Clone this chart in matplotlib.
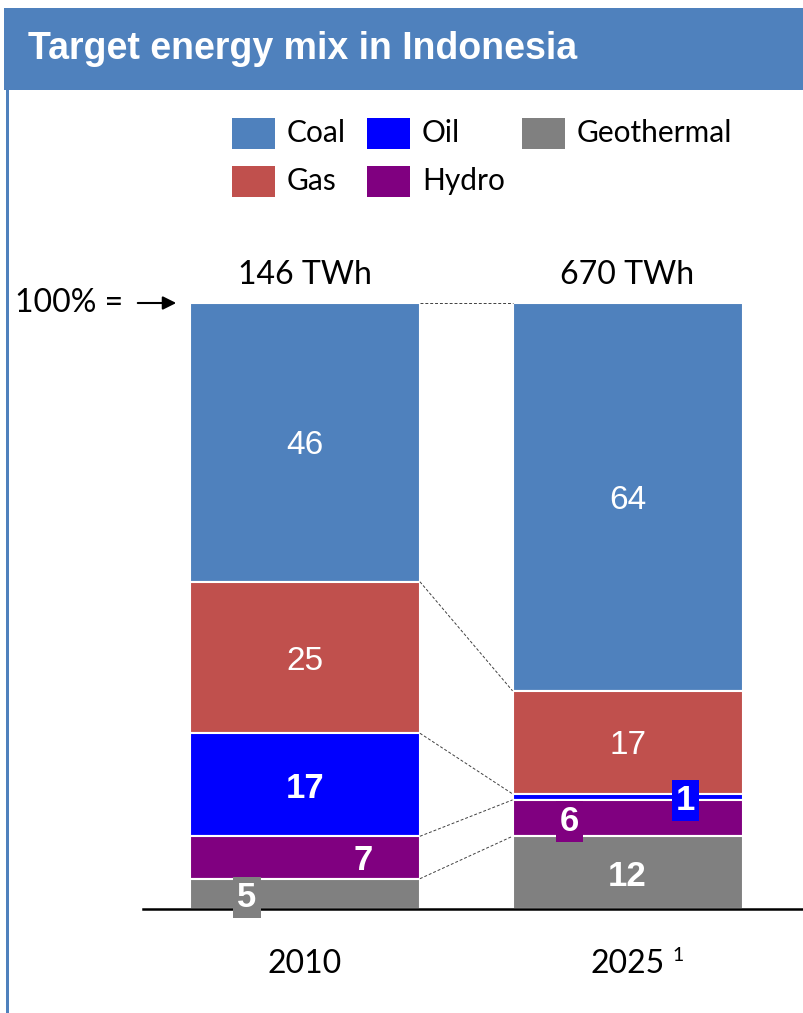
import matplotlib
matplotlib.use('Agg')
import matplotlib.pyplot as plt
from matplotlib.patches import Rectangle
import numpy as np

# data (shares in %)
years = ['2010', '2025']
totals = ['146 TWh', '670 TWh']
sources = ['Coal', 'Gas', 'Oil', 'Hydro', 'Geothermal']
coal = [46, 64]
gas = [25, 17]
oil = [17, 1]
hydro = [7, 6]
geothermal = [5, 12]

colors = {'Coal': '#4F81BD', 'Gas': '#C0504D', 'Oil': '#0000FF',
          'Hydro': '#800080', 'Geothermal': '#808080'}

W, H = 804, 1013


def fx(x):
    return x / W


def fy(y):
    return 1 - y / H


fig = plt.figure(figsize=(W / 100, H / 100), dpi=100)

# header banner + left border
fig.patches.append(Rectangle((fx(4), fy(90)), 1 - fx(4), 82 / H, transform=fig.transFigure,
                             facecolor='#4F81BD', edgecolor='none'))
fig.patches.append(Rectangle((fx(6), 0), 3 / W, fy(90), transform=fig.transFigure,
                             facecolor='#4F81BD', edgecolor='none'))
fig.text(fx(28), fy(49), 'Target energy mix in Indonesia', color='white', fontsize=27,
         fontweight='bold', family='Liberation Sans', va='center', ha='left')

# legend drawn by hand (3 columns, 2 rows)
leg_cols = [232, 367, 522]
leg_rows = [133, 181]
for i, name in enumerate(sources):
    c, r = i // 2, i % 2
    x0, yc = leg_cols[c], leg_rows[r]
    fig.patches.append(Rectangle((fx(x0), fy(yc + 16)), 43 / W, 31 / H, transform=fig.transFigure,
                                 facecolor=colors[name], edgecolor='none'))
    fig.text(fx(x0 + 55), fy(yc), name, fontsize=21.5, family='Lato', va='center', ha='left')

# bars
ax = fig.add_axes([fx(143), fy(909), fx(804) - fx(143), 606 / H])
ax.set_xlim(-0.502, 1.547)
ax.set_ylim(0, 100)
ax.axis('off')

x = np.arange(len(years))
bw = 0.713
stack = [('Coal', coal), ('Gas', gas), ('Oil', oil), ('Hydro', hydro), ('Geothermal', geothermal)]
# stacked from the top down: coal on top
tops = np.array([100.0, 100.0])
bounds = [tops.copy()]
seg_info = []
for name, vals in stack:
    vals = np.array(vals, dtype=float)
    bottoms = tops - vals
    ax.bar(x, vals, bottom=bottoms, width=bw, color=colors[name], edgecolor='white', linewidth=1.5)
    seg_info.append((name, vals, (tops + bottoms) / 2))
    tops = bottoms
    bounds.append(tops.copy())

# dashed connectors between boundaries
for b in bounds[:-1]:
    ax.plot([x[0] + bw / 2, x[1] - bw / 2], [b[0], b[1]], color='#404040', lw=0.7,
            ls=(0, (3, 2)), clip_on=False)

# labels
lab_style = {
    'Coal': dict(fontsize=24, fontweight='normal', dx=[0, 0], box=[False, False]),
    'Gas': dict(fontsize=24, fontweight='normal', dx=[0, 0], box=[False, False]),
    'Oil': dict(fontsize=25, fontweight='bold', dx=[0, 0.18], box=[False, True]),
    'Hydro': dict(fontsize=25, fontweight='bold', dx=[0.18, -0.18], box=[False, True]),
    'Geothermal': dict(fontsize=25, fontweight='bold', dx=[-0.18, 0], box=[True, False]),
}
for name, vals, mids in seg_info:
    st = lab_style[name]
    for i in range(len(x)):
        bbox = None
        if st['box'][i]:
            bbox = dict(boxstyle='square,pad=0.12', facecolor=colors[name], edgecolor='none')
        ax.text(x[i] + st['dx'][i], mids[i], '%d' % vals[i], color='white', ha='center',
                va='center_baseline', fontsize=st['fontsize'], fontweight=st['fontweight'],
                family='Liberation Sans', bbox=bbox, clip_on=False)

# totals above bars
for i, t in enumerate(totals):
    ax.text(x[i], 104.6, t, ha='center', va='center', fontsize=23, family='Lato')

# years below
for i, yr in enumerate(years):
    ax.text(x[i], -9.0, yr, ha='center', va='center', fontsize=23, family='Lato')
ax.text(x[1] + 0.14, -7.6, '1', ha='left', va='center', fontsize=14, family='Lato')

# baseline
ax.plot([-0.502, 1.547], [0, 0], color='black', lw=1.8, clip_on=False)

# 100% = arrow
fig.text(fx(15), fy(303), '100% =', fontsize=23, family='Lato', ha='left', va='center')
ax.annotate('', xy=(fx(179), fy(303)), xytext=(fx(135), fy(303)),
            xycoords='figure fraction', textcoords='figure fraction',
            arrowprops=dict(arrowstyle='-|>', color='black', lw=1.5, mutation_scale=20))

fig.savefig('out.png', dpi=100)
